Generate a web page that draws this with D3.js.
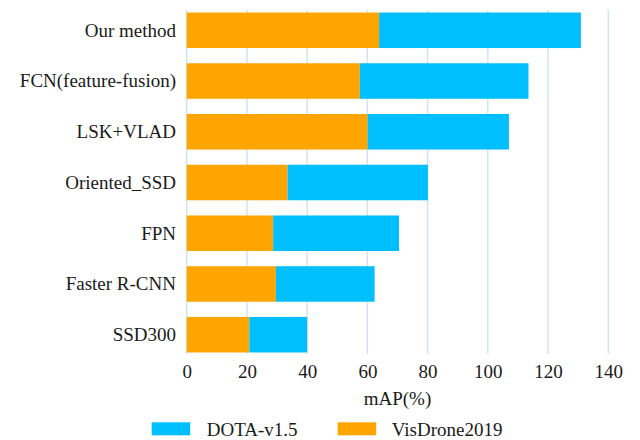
<!DOCTYPE html>
<html>
<head>
<meta charset="utf-8">
<script src="https://cdn.jsdelivr.net/npm/d3@7"></script>
<style>
  html, body { margin: 0; padding: 0; background: #fff; }
  svg { display: block; }
  text { font-family: "Liberation Serif", "Times New Roman", serif; fill: #1a1a1a; }
</style>
</head>
<body>
<svg id="chart" width="640" height="440"></svg>
<script>
// Methods, top to bottom
const categories = ["Our method", "FCN(feature-fusion)", "LSK+VLAD", "Oriented_SSD", "FPN", "Faster R-CNN", "SSD300"];
// mAP (%) on VisDrone2019 (first segment) and DOTA-v1.5 (stacked after it)
const visdrone = [63.9, 57.5, 60.1, 33.5, 28.7, 29.6, 20.8];
const dota = [67.0, 56.0, 46.9, 46.6, 41.8, 32.8, 19.2];
const xTicks = [0, 20, 40, 60, 80, 100, 120, 140];
const seriesNames = ["DOTA-v1.5", "VisDrone2019"];
const colors = { "DOTA-v1.5": "#00BFFF", "VisDrone2019": "#FFA500" };

const svg = d3.select("#chart");

const x = d3.scaleLinear().domain([0, 140]).range([186.7, 608.3]);
const y = d3.scaleBand().domain(categories).range([11, 354]).paddingInner(0.3).paddingOuter(0.03);

// vertical gridlines
svg.append("g")
  .selectAll("line")
  .data(xTicks)
  .join("line")
  .attr("x1", d => x(d)).attr("x2", d => x(d))
  .attr("y1", 10).attr("y2", 354)
  .attr("stroke", "#cfe5ee")
  .attr("stroke-width", 1.5);

const rows = categories.map((c, i) => ({ c, v: visdrone[i], d: dota[i] }));

const bars = svg.append("g");
// VisDrone2019 segment
bars.selectAll("rect.vis")
  .data(rows)
  .join("rect")
  .attr("class", "vis")
  .attr("x", d => x(0))
  .attr("y", d => y(d.c))
  .attr("width", d => x(d.v) - x(0))
  .attr("height", y.bandwidth())
  .attr("fill", colors["VisDrone2019"]);
// DOTA-v1.5 segment stacked on top
bars.selectAll("rect.dota")
  .data(rows)
  .join("rect")
  .attr("class", "dota")
  .attr("x", d => x(d.v))
  .attr("y", d => y(d.c))
  .attr("width", d => x(d.v + d.d) - x(d.v))
  .attr("height", y.bandwidth())
  .attr("fill", colors["DOTA-v1.5"]);

// category labels
svg.append("g")
  .selectAll("text")
  .data(categories)
  .join("text")
  .attr("x", 176)
  .attr("y", d => y(d) + y.bandwidth() / 2)
  .attr("dy", "0.33em")
  .attr("text-anchor", "end")
  .attr("font-size", 19)
  .text(d => d);

// x axis tick labels
const xAxis = d3.axisBottom(x).tickValues(xTicks).tickSize(0).tickPadding(0);
const gx = svg.append("g").attr("transform", "translate(0,364)").call(xAxis);
gx.select(".domain").remove();
gx.selectAll("text")
  .attr("font-size", 19)
  .attr("dy", "0.71em")
  .attr("fill", "#1a1a1a")
  .style("font-family", "'Liberation Serif', 'Times New Roman', serif");

// axis title
svg.append("text")
  .attr("x", (x(0) + x(140)) / 2)
  .attr("y", 405)
  .attr("text-anchor", "middle")
  .attr("font-size", 19)
  .text("mAP(%)");

// legend
const legendPos = [
  { name: "DOTA-v1.5", sx: 151.7, tx: 206.7 },
  { name: "VisDrone2019", sx: 337.7, tx: 391.7 }
];
const lg = svg.append("g").selectAll("g").data(legendPos).join("g");
lg.append("rect")
  .attr("x", d => d.sx).attr("y", 422.3)
  .attr("width", 38.5).attr("height", 13)
  .attr("fill", d => colors[d.name]);
lg.append("text")
  .attr("x", d => d.tx).attr("y", 435.5)
  .attr("font-size", 19)
  .text(d => d.name);
</script>
</body>
</html>
